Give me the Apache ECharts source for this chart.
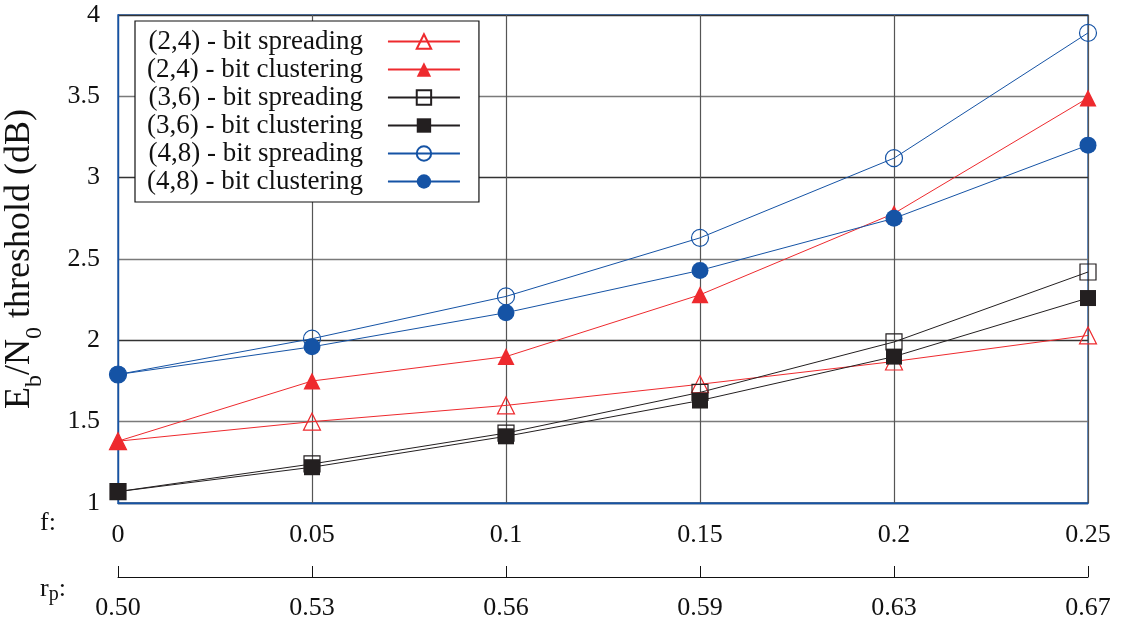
<!DOCTYPE html>
<html><head><meta charset="utf-8">
<script src="https://cdn.jsdelivr.net/npm/echarts@6/dist/echarts.min.js"></script>
<style>html,body{margin:0;padding:0;background:#fff}#c{width:1121px;height:622px}</style>
</head><body><div id="c"></div>
<script>
const fValues = [0, 0.05, 0.1, 0.15, 0.2, 0.25];
const rpLabels = ['0.50', '0.53', '0.56', '0.59', '0.63', '0.67'];
const s24spread = [1.38, 1.50, 1.60, 1.73, 1.87, 2.03];
const s24cluster = [1.38, 1.75, 1.90, 2.28, 2.78, 3.49];
const s36spread = [1.07, 1.24, 1.43, 1.68, 1.99, 2.42];
const s36cluster = [1.07, 1.22, 1.41, 1.63, 1.90, 2.26];
const s48spread = [1.79, 2.01, 2.27, 2.63, 3.12, 3.89];
const s48cluster = [1.79, 1.96, 2.17, 2.43, 2.75, 3.20];
const seriesNames = ['(2,4) - bit spreading', '(2,4) - bit clustering', '(3,6) - bit spreading', '(3,6) - bit clustering', '(4,8) - bit spreading', '(4,8) - bit clustering'];

const RED = '#ee2a2e', BLACK = '#231f20', BLUE = '#1553a5';
const FONT = 'Liberation Serif';

function pairs(arr) { return fValues.map((f, i) => [f, arr[i]]); }
function mk(name, data, color, symbol, size, filled) {
  return {
    name, type: 'line', data: pairs(data), xAxisIndex: 0, yAxisIndex: 0,
    symbol, symbolSize: size, showSymbol: true,
    lineStyle: { color, width: 1 },
    itemStyle: filled ? { color, borderColor: color, borderWidth: 0 } : { color: 'rgba(255,255,255,0)', borderColor: color, borderWidth: 1.2 },
    emphasis: { disabled: true }, animation: false, z: 3
  };
}
const chart = echarts.init(document.getElementById('c'), null, { renderer: 'canvas' });
chart.setOption({
  backgroundColor: '#fff',
  animation: false,
  textStyle: { fontFamily: FONT },
  grid: [
    { left: 118, right: 33, top: 15, bottom: 119, show: true, borderColor: BLUE, borderWidth: 1.3, backgroundColor: 'transparent', containLabel: false, outerBoundsMode: 'none' },
    { left: 118, right: 33, top: 577, height: 0, containLabel: false, outerBoundsMode: 'none' }
  ],
  xAxis: [
    { type: 'value', gridIndex: 0, min: 0, max: 0.25, interval: 0.05,
      axisLine: { show: true, lineStyle: { color: BLUE, width: 1.3 } },
      axisTick: { show: false },
      axisLabel: { color: '#111', fontSize: 26, fontFamily: FONT, margin: 19 },
      splitLine: { show: true, lineStyle: { color: '#555', width: 1.2 } } },
    { type: 'value', gridIndex: 1, min: 0, max: 0.25, interval: 0.05,
      axisLine: { show: true, lineStyle: { color: '#111', width: 1 } },
      axisTick: { show: true, inside: true, length: 11, lineStyle: { color: '#111', width: 1 } },
      axisLabel: { color: '#111', fontSize: 26, fontFamily: FONT, margin: 18,
        formatter: (v) => { const i = fValues.findIndex(f => Math.abs(f - v) < 1e-9); return i >= 0 ? rpLabels[i] : ''; } },
      splitLine: { show: false } }
  ],
  yAxis: [
    { type: 'value', gridIndex: 0, min: 1, max: 4, interval: 0.5,
      axisLine: { show: true, lineStyle: { color: BLUE, width: 1.3 } },
      axisTick: { show: false },
      axisLabel: { color: '#111', fontSize: 26, fontFamily: FONT, margin: 18 },
      splitLine: { show: true, lineStyle: { color: ['#333', '#7a7a7a'], width: 1.3 } },
      name: '{n|E}{s|b}{n|/N}{s|0}{n| threshold (dB)}',
      nameLocation: 'middle', nameGap: 80, nameRotate: 90,
      nameTextStyle: { color: '#111', fontFamily: FONT,
        rich: {
          n: { fontSize: 36, fontFamily: FONT, color: '#111', verticalAlign: 'bottom', lineHeight: 40 },
          s: { fontSize: 24, fontFamily: FONT, color: '#111', verticalAlign: 'bottom', lineHeight: 40, padding: [0, 0, -9, 0] }
        } } },
    { type: 'value', gridIndex: 1, show: false, min: 0, max: 1 }
  ],
  legend: {
    show: true, left: 135, top: 21, orient: 'vertical', align: 'right',
    backgroundColor: '#fff', borderColor: '#111', borderWidth: 1.2,
    padding: [7, 18, 7, 12], itemGap: 1, itemWidth: 72, itemHeight: 18,
    textStyle: { fontSize: 27, fontFamily: FONT, color: '#111', lineHeight: 23, padding: [0, 20, 0, 0] },
    selectedMode: false,
    data: seriesNames
  },
  graphic: [
    { type: 'text', left: 40, top: 510, style: { text: 'f:', font: '26px "Liberation Serif"', fill: '#111' } },
    { type: 'text', left: 40, top: 576, style: { rich: { a: { fontSize: 26, fontFamily: FONT, fill: '#111' }, b: { fontSize: 20, fontFamily: FONT, fill: '#111', padding: [12, 0, 0, 0] } }, text: '{a|r}{b|p}{a|:}' } }
  ],
  series: [
    mk(seriesNames[0], s24spread, RED, 'triangle', 17, false),
    mk(seriesNames[1], s24cluster, RED, 'triangle', 17, true),
    mk(seriesNames[2], s36spread, BLACK, 'rect', 16, false),
    mk(seriesNames[3], s36cluster, BLACK, 'rect', 16, true),
    mk(seriesNames[4], s48spread, BLUE, 'circle', 17, false),
    mk(seriesNames[5], s48cluster, BLUE, 'circle', 17, true)
  ]
});
</script></body></html>
